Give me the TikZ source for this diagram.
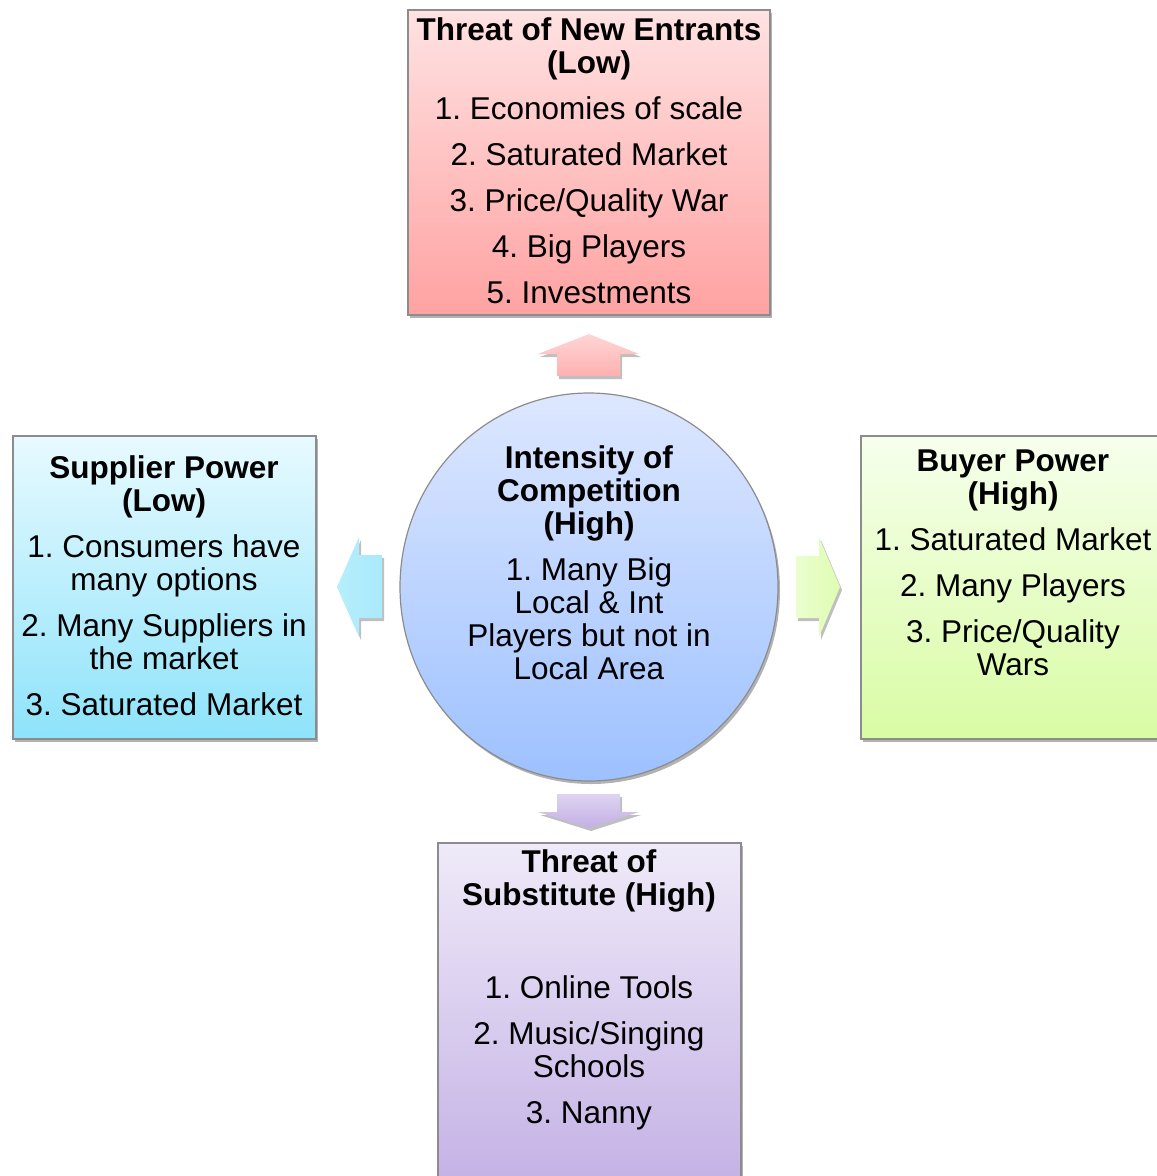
\documentclass[tikz,border=0pt]{standalone}
\usepackage{fontspec}
\setmainfont{Liberation Sans}
\usetikzlibrary{shadows}
\frenchspacing
\definecolor{boxgray}{HTML}{8C8C8C}
\definecolor{redtop}{HTML}{FFE2E2}
\definecolor{redbot}{HTML}{FFA2A2}
\definecolor{cyantop}{HTML}{E8FAFF}
\definecolor{cyanbot}{HTML}{8EE3FA}
\definecolor{greentop}{HTML}{F6FFEC}
\definecolor{greenbot}{HTML}{D9FCA4}
\definecolor{violtop}{HTML}{EFEAF8}
\definecolor{violbot}{HTML}{C3B0E5}
\definecolor{bluetop}{HTML}{DDE7FF}
\definecolor{bluebot}{HTML}{9DC1FF}
\begin{document}
\frenchspacing
\begin{tikzpicture}[x=1pt,y=-1pt,
  box/.style={draw=boxgray, line width=1.2pt,
    drop shadow={shadow xshift=2pt,shadow yshift=-3pt,opacity=0.3,fill=black}},
  blockarrow/.style={draw=none,
    drop shadow={shadow xshift=2pt,shadow yshift=-3pt,opacity=0.25,fill=black}},
  txt/.style={align=center, inner sep=0pt, anchor=north,
    font=\fontsize{31.5}{33}\selectfont\frenchspacing}]
\clip (0,0) rectangle (1157,1176);
% boxes
\node[box, top color=redtop, bottom color=redbot, minimum width=362pt, minimum height=305pt, inner sep=0pt] (entrants) at (589,162.5) {};
\node[box, top color=cyantop, bottom color=cyanbot, minimum width=303pt, minimum height=303pt, inner sep=0pt] (supplier) at (164.5,587.5) {};
\node[box, top color=greentop, bottom color=greenbot, minimum width=304pt, minimum height=303pt, inner sep=0pt] (buyer) at (1013,587.5) {};
\node[box, top color=violtop, bottom color=violbot, minimum width=303pt, minimum height=350pt, inner sep=0pt] (substitute) at (589.5,1018) {};
% circle
\path[draw=boxgray, line width=1.2pt, top color=bluetop, bottom color=bluebot,
  drop shadow={shadow xshift=2pt,shadow yshift=-3pt,opacity=0.3,fill=black}]
  (589,587) coordinate (rivalry) ellipse [x radius=189, y radius=194];
% arrows
\path[blockarrow, top color=redtop!80!redbot, bottom color=redbot!85!white]
  (589,334) -- (639,354) -- (620,354) -- (620,376) -- (557,376) -- (557,354) -- (538,354) -- cycle;
\path[blockarrow, left color=cyantop!45!cyanbot, right color=cyanbot!70!cyantop]
  (337,587) -- (359,537) -- (359,555) -- (382,555) -- (382,618) -- (359,618) -- (359,637) -- cycle;
\path[blockarrow, left color=greentop!60!greenbot, right color=greenbot!80!greentop]
  (840,587) -- (819,537) -- (819,556) -- (796,556) -- (796,618) -- (819,618) -- (819,637) -- cycle;
\path[blockarrow, top color=violtop!60!violbot, bottom color=violbot]
  (589,828) -- (639,812) -- (620,812) -- (620,794) -- (557,794) -- (557,812) -- (538,812) -- cycle;
% texts
\node[txt] (tEntrants) at (589,17) {\textbf{Threat of New Entrants}\\\textbf{(Low)}\\[13pt]
  1. Economies of scale\\[13pt]2. Saturated Market\\[13pt]3. Price/Quality War\\[13pt]4. Big Players\\[13pt]5. Investments};
\node[txt] (tSupplier) at (164,455) {\textbf{Supplier Power}\\\textbf{(Low)}\\[13pt]
  1. Consumers have\\many options\\[13pt]2. Many Suppliers in\\the market\\[13pt]3. Saturated Market};
\node[txt] (tRivalry) at (589,445.5) {\textbf{Intensity of}\\\textbf{Competition}\\\textbf{(High)}\\[13pt]
  1. Many Big\\Local \& Int\\Players but not in\\Local Area};
\node[txt] (tBuyer) at (1013,449.5) {\textbf{Buyer Power}\\\textbf{(High)}\\[13pt]
  1. Saturated Market\\[13pt]2. Many Players\\[13pt]3. Price/Quality\\Wars};
\node[txt] (tSubstitute) at (589,849.5) {\textbf{Threat of}\\\textbf{Substitute (High)}\\[60pt]
  1. Online Tools\\[13pt]2. Music/Singing\\Schools\\[13pt]3. Nanny};
\end{tikzpicture}
\end{document}
